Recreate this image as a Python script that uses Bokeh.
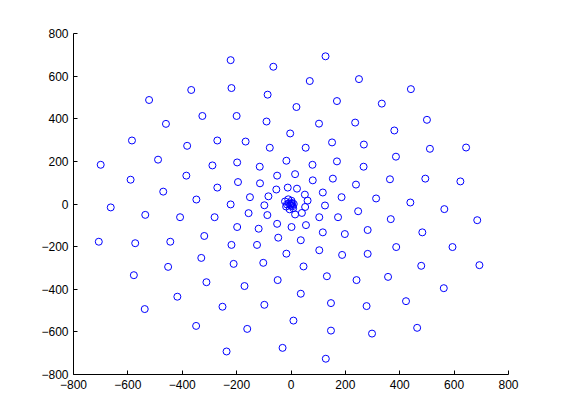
from bokeh.plotting import figure
from bokeh.models import Range1d, FixedTicker
from bokeh.embed import file_html
from bokeh.resources import INLINE

x_vals = [
    -522, -460, -585, -222, -65, -367, -219, -86, 20, -326, -200, -90, -3, -382, -271, -167, -78,
    127, 69, 250, 441, 169, 334, 103, 236, 380, 151, 268, 54, 500, 511, 644,
    -700, -489, -590, -470, -663, -536, -408, -707, -573, -444, -452, -578, -418, -538,
    -289, -198, -115, -17, -385, -51, 15, -271, -195, -114, -54, -12, 22, -348, -222, -151, -83, -98,
    -281, -156, -87, -51, 2, -198, -119, -319, -47, -219, -125, -17, -330, -211, -102,
    79, 169, 267, 386, 80, 154, 239, 364, 51, 117, 61, 186, 313, 439, 52, 40, 15, 125, 247, 104, 173,
    367, 55, 117, 198, 282, 36, 104, 188, 282, 387, 46,
    494, 623, 564, 685, 483, 594, 479, 693,
    -311, -171, -49, -252, -98, -349, -161, 9, -237, -31,
    132, 241, 357, 36, 147, 278, 423, 147, 298, 128, 562, 464,
    -22, -18, -5, 8, 10, 2, -10, -8, 0, 3, -3, 1, -15, 6,
]
y_vals = [
    488, 376, 298, 675, 644, 535, 544, 513, 455, 413, 413, 387, 331, 273, 298, 293, 264,
    693, 577, 586, 539, 483, 471, 377, 382, 345, 289, 279, 264, 395, 259, 265,
    184, 208, 114, 58, -16, -51, -62, -177, -184, -177, -295, -334, -435, -493,
    181, 195, 175, 203, 133, 133, 140, 77, 103, 97, 68, 77, 72, 21, -2, 32, 36, -6,
    -62, -43, -52, -93, -108, -108, -116, -150, -158, -192, -192, -233, -253, -281, -276,
    184, 200, 175, 222, 111, 119, 91, 116, 44, 54, 16, 32, 26, 7, -14, -42, -49, -7, -34, -62, -62,
    -71, -99, -133, -141, -122, -170, -217, -239, -234, -202, -293,
    119, 106, -24, -76, -133, -202, -290, -287,
    -367, -385, -357, -482, -473, -572, -586, -547, -692, -675,
    -339, -357, -342, -421, -465, -479, -456, -594, -608, -726, -395, -581,
    12, -12, -25, -20, 0, 15, 22, 3, -8, 5, -3, 1, -2, -10,
]
tick_values = [-800, -600, -400, -200, 0, 200, 400, 600, 800]

p = figure(width=553, height=412, frame_width=435, frame_height=341,
           output_backend="svg", toolbar_location=None,
           x_range=Range1d(-800, 800), y_range=Range1d(-800, 800),
           min_border_left=73, min_border_right=45, min_border_top=33, min_border_bottom=38)
p.outline_line_color = None
p.background_fill_color = "white"
p.border_fill_color = "white"
p.xgrid.visible = False
p.ygrid.visible = False

p.scatter(x_vals, y_vals, marker="circle", size=7, fill_color=None,
          line_color="#0000ff", line_width=1)

for ax in (p.xaxis[0], p.yaxis[0]):
    ax.ticker = FixedTicker(ticks=tick_values)
    ax.major_tick_in = 4
    ax.major_tick_out = 0
    ax.minor_tick_line_color = None
    ax.axis_line_color = "black"
    ax.major_tick_line_color = "black"
    ax.major_label_text_font = "Liberation Sans"
    ax.major_label_text_font_size = "12px"
    ax.major_label_text_color = "black"
    ax.major_label_standoff = 5

open("out.html", "w").write(file_html(p, INLINE))
